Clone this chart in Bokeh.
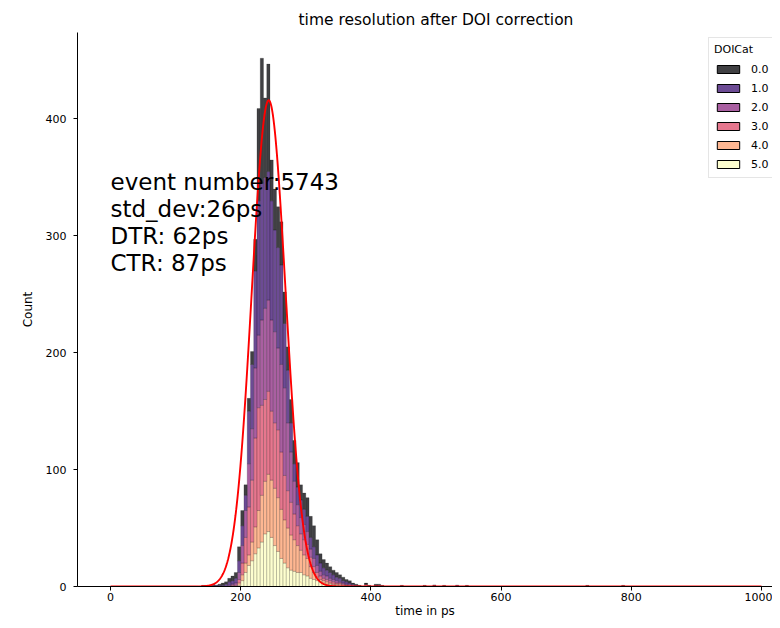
import numpy as np
from bokeh.plotting import figure
from bokeh.models import (Range1d, Legend, LegendItem, ColumnDataSource, FixedTicker,
                          CDSView, IndexFilter)
from bokeh.embed import file_html
from bokeh.resources import INLINE
from bokeh.core.properties import value

# ---- data ----
bin_centers = [142.5, 147.5, 152.5, 157.5, 162.5, 167.5, 172.5, 177.5, 182.5, 187.5,
               192.5, 197.5, 202.5, 207.5, 212.5, 217.5, 222.5, 227.5, 232.5, 237.5,
               242.5, 247.5, 252.5, 257.5, 262.5, 267.5, 272.5, 277.5, 282.5, 287.5,
               292.5, 297.5, 302.5, 307.5, 312.5, 317.5, 322.5, 327.5, 332.5, 337.5,
               342.5, 347.5, 352.5, 357.5, 362.5, 367.5, 372.5, 377.5, 382.5, 387.5,
               392.5, 397.5, 402.5, 407.5, 412.5, 417.5,
               447.5, 482.5, 497.5, 512.5, 532.5, 547.5, 732.5, 787.5]
bin_width = 5.0

doi_0 = [1, 1, 0, 1, 0, 1, 2, 2, 3, 4, 5, 12, 13, 9, 11, 11, 27, 79, 107, 68,
         92, 35, 35, 35, 37, 27, 20, 20, 20, 21, 13, 14, 16, 18, 18, 13, 8, 7, 6, 5,
         4, 4, 3, 3, 2, 2, 1, 1, 1, 0, 1, 1, 0, 1, 1, 1,
         1, 1, 0, 1, 0, 1, 1, 1]
doi_1 = [0, 0, 0, 1, 1, 1, 1, 2, 3, 3, 4, 10, 17, 13, 45, 55, 83, 115, 117, 112,
         110, 102, 87, 86, 85, 55, 45, 25, 15, 15, 15, 13, 13, 10, 10, 9, 7, 6, 5, 5,
         4, 3, 3, 2, 2, 1, 1, 1, 0, 0, 0, 0, 0, 0, 1, 0,
         0, 0, 0, 0, 1, 0, 0, 0]
doi_2 = [0, 0, 0, 0, 0, 0, 0, 0, 1, 1, 2, 6, 15, 23, 37, 44, 60, 62, 73, 78,
         78, 78, 78, 70, 75, 75, 58, 43, 28, 18, 14, 13, 11, 7, 7, 6, 4, 3, 3, 2,
         2, 2, 1, 1, 1, 1, 1, 0, 0, 0, 0, 0, 0, 1, 0, 0,
         0, 0, 1, 0, 0, 0, 0, 0]
doi_3 = [0, 0, 0, 0, 0, 0, 0, 0, 0, 1, 1, 3, 10, 22, 41, 53, 76, 88, 77, 70,
         71, 59, 56, 58, 49, 38, 32, 28, 22, 17, 14, 13, 12, 8, 5, 4, 3, 2, 2, 2,
         2, 1, 1, 1, 0, 1, 0, 0, 0, 0, 2, 0, 0, 0, 0, 0,
         0, 0, 0, 0, 0, 0, 0, 0]
doi_4 = [0, 0, 0, 0, 0, 0, 0, 0, 0, 0, 0, 2, 5, 8, 9, 16, 23, 32, 40, 45,
         49, 49, 49, 46, 42, 37, 34, 30, 27, 23, 19, 17, 15, 10, 6, 3, 2, 2, 2, 1,
         1, 1, 1, 1, 1, 0, 0, 0, 0, 0, 0, 0, 0, 0, 0, 0,
         0, 0, 0, 0, 0, 0, 0, 0]
doi_5 = [0, 0, 0, 0, 0, 0, 0, 0, 0, 0, 0, 1, 5, 12, 18, 22, 28, 33, 38, 45,
         47, 42, 35, 30, 24, 20, 16, 14, 13, 12, 12, 10, 9, 7, 6, 5, 4, 3, 2, 2,
         1, 1, 1, 0, 0, 0, 0, 0, 0, 0, 0, 0, 0, 0, 0, 0,
         0, 0, 0, 0, 0, 0, 0, 0]

categories = ["0.0", "1.0", "2.0", "3.0", "4.0", "5.0"]
colors = ["#000004", "#3b0f70", "#8c2981", "#de4968", "#fe9f6d", "#fcfdbf"]

# Gaussian fit parameters
fit_amp = 416.0
fit_mu = 243.0
fit_sigma = 26.0
fit_range = (0, 1000)

annotation_lines = ["event number:5743", "std_dev:26ps", "DTR: 62ps", "CTR: 87ps"]
x_ticks = [0, 200, 400, 600, 800, 1000]
y_ticks = [0, 100, 200, 300, 400]

# ---- figure ----
FONT = "DejaVu Sans"
p = figure(width=772, height=620, output_backend="svg", toolbar_location=None,
           x_range=Range1d(-50.7, 1016.9), y_range=Range1d(0, 474),
           min_border_left=77, min_border_right=0, min_border_top=32, min_border_bottom=30)

src = ColumnDataSource(dict(x=bin_centers, d0=doi_0, d1=doi_1, d2=doi_2,
                            d3=doi_3, d4=doi_4, d5=doi_5))
stackers = ["d5", "d4", "d3", "d2", "d1", "d0"]
stack_colors = list(reversed(colors))
p.vbar_stack(stackers, x="x", width=bin_width, source=src,
             fill_color=stack_colors, fill_alpha=0.75,
             line_color="black", line_alpha=0.35, line_width=0.5)

# Gaussian fit curve
fx = np.linspace(fit_range[0], fit_range[1], 2001)
fy = fit_amp * np.exp(-0.5 * ((fx - fit_mu) / fit_sigma) ** 2)
p.line(fx, fy, line_color="red", line_width=1.9)

# annotation text
ann_top = 346.0
ann_step = 23.0
p.text(x=[0] * len(annotation_lines),
       y=[ann_top - i * ann_step for i in range(len(annotation_lines))],
       text=annotation_lines, text_font=value(FONT), text_font_size="23px",
       text_baseline="middle", text_align="left", text_color="black")

# legend swatch proxies: zero-height bars (nothing visible) with solid black edges
proxy_view = CDSView(filter=IndexFilter([0]))
items = []
for c, col in zip(categories, colors):
    r = p.vbar(x="x", top=0, bottom=0, width=0, source=src, view=proxy_view,
               fill_color=col, fill_alpha=0.75, line_color="black", line_width=1)
    items.append(LegendItem(label=c, renderers=[r]))
legend = Legend(items=items, title="DOICat", location=(631, 408),
                glyph_width=28, glyph_height=10, label_height=16, spacing=3,
                label_text_font=FONT, label_text_font_size="11px", label_text_color="black",
                title_text_font=FONT, title_text_font_size="11px", title_text_color="black",
                title_text_font_style="normal", title_standoff=5,
                padding=5, label_standoff=9,
                border_line_color="#cccccc", border_line_width=1,
                background_fill_alpha=0.8)
p.add_layout(legend)

# title
p.title.text = "time resolution after DOI correction"
p.title.align = "left"
p.title.offset = 221
p.title.text_font = FONT
p.title.text_font_size = "15.5px"
p.title.text_font_style = "normal"
p.title.text_color = "black"
p.title.standoff = 8

# axes styling
p.xgrid.visible = False
p.ygrid.visible = False
p.outline_line_color = None
p.background_fill_color = "white"
p.border_fill_color = "white"
p.xaxis.ticker = FixedTicker(ticks=x_ticks)
p.yaxis.ticker = FixedTicker(ticks=y_ticks)
p.xaxis.axis_label = "time in ps"
p.yaxis.axis_label = "Count"
for ax in (p.xaxis, p.yaxis):
    ax.axis_line_color = "black"
    ax.axis_line_width = 1
    ax.major_tick_line_color = "black"
    ax.major_tick_out = 4
    ax.major_tick_in = 0
    ax.minor_tick_line_color = None
    ax.major_label_text_font = FONT
    ax.major_label_text_font_size = "11px"
    ax.major_label_text_color = "black"
    ax.axis_label_text_font = FONT
    ax.axis_label_text_font_size = "12px"
    ax.axis_label_text_font_style = "normal"
    ax.axis_label_text_color = "black"
p.xaxis.major_label_standoff = 2
p.xaxis.axis_label_standoff = 0
p.yaxis.major_label_standoff = 7
p.yaxis.axis_label_standoff = 8

open("out.html", "w").write(file_html(p, INLINE))
